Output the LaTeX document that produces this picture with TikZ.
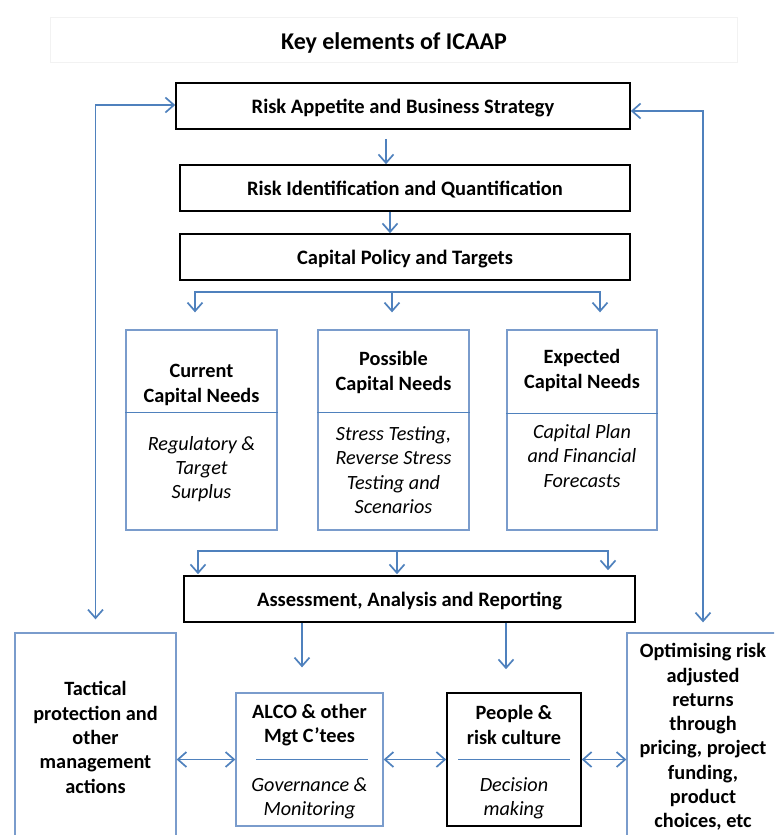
\documentclass[tikz,border=0pt]{standalone}
\usepackage{fontspec}
\setmainfont{Carlito}
\usepackage{xcolor}
\usetikzlibrary{arrows.meta}
\definecolor{linkblue}{RGB}{79,129,189}
\definecolor{edgeblue}{RGB}{122,156,204}

\begin{document}
\begin{tikzpicture}[x=1pt, y=-1pt,
  box/.style={draw, line width=1.6pt, minimum height=46pt, inner sep=0pt, text depth=0pt, font=\bfseries\fontsize{20.5}{24}\selectfont},
  bluebox/.style={draw=edgeblue, line width=1.3pt, inner sep=0pt},
  head/.style={font=\bfseries\fontsize{20.3}{24.3}\selectfont, align=center, inner sep=0pt, yshift=-2pt},
  sub/.style={font=\itshape\fontsize{20.2}{24.3}\selectfont, align=center, inner sep=0pt, yshift=-2pt},
  sepline/.style={draw=linkblue, line width=1.3pt},
  link/.style={draw=linkblue, line width=1.7pt, -{Straight Barb[length=8.5pt,width=15pt]}},
  dlink/.style={link, {Straight Barb[length=8.5pt,width=15pt]}-{Straight Barb[length=8.5pt,width=15pt]}}
]
\useasboundingbox (0,0) rectangle (774,835);

% title
\node[draw=black!5, line width=0.8pt, minimum width=687pt, minimum height=45pt] (titlebox) at (393.5,39.5) {};
\node[font=\bfseries\fontsize{24}{28}\selectfont] (title) at (394,43) {Key elements of ICAAP};

% main chain
\node[box, minimum width=454pt] (risk) at (403,106) {Risk Appetite and Business Strategy};
\node[box, minimum width=450pt] (ident) at (405,188) {Risk Identification and Quantification};
\node[box, minimum width=450pt] (policy) at (405,257) {Capital Policy and Targets};

\draw[link, shorten <=9pt] ([xshift=-17pt]risk.south) -- ([xshift=-17pt]risk.south |- ident.north);
\draw[link] ([xshift=-15pt]ident.south) -- ([xshift=-15pt]ident.south |- policy.north);

% capital needs
\foreach \n/\x/\w in {curr/201.5/151, poss/393.5/151, expc/582/150} {
  \node[bluebox, minimum width=\w pt, minimum height=200pt] (\n) at (\x,430) {};
}
\draw[sepline] ([yshift=-83pt]curr.north west) -- ([yshift=-83pt]curr.north east);
\draw[sepline] ([yshift=-83pt]poss.north west) -- ([yshift=-83pt]poss.north east);
\draw[sepline] ([yshift=-84pt]expc.north west) -- ([yshift=-84pt]expc.north east);

\node[head] (curr-h) at (201.5,383) {Current\\Capital Needs};
\node[sub] (curr-s) at (201.5,467) {Regulatory \&\\Target\\Surplus};
\node[head] (poss-h) at (393.5,370.5) {Possible\\Capital Needs};
\node[sub] (poss-s) at (393.5,468) {Stress Testing,\\Reverse Stress\\Testing and\\Scenarios};
\node[head] (expc-h) at (582,368.5) {Expected\\Capital Needs};
\node[sub] (expc-s) at (582,454) {Capital Plan\\and Financial\\Forecasts};

\coordinate (f1l) at (195,292);
\coordinate (f1m) at (392,292);
\coordinate (f1r) at (600,292);
\draw[link, shorten >=17pt] (f1m) -- (f1m |- poss.north);
\draw[link, shorten >=17pt] (f1m) -| (f1l |- curr.north);
\draw[link, shorten >=17pt] (f1m) -| (f1r |- expc.north);

% assessment
\node[box, minimum width=451pt] (assess) at (409.5,599) {Assessment, Analysis and Reporting};

\coordinate (f2l) at (198,551);
\coordinate (f2m) at (397,551);
\coordinate (f2r) at (608,551);
\draw[link, shorten >=1pt] (f2m) -- (f2m |- assess.north);
\draw[link, shorten >=1pt] (f2m) -| (f2l |- assess.north);
\draw[link, shorten >=5pt] (f2m) -| (f2r |- assess.north);

% bottom row
\begin{scope}
\clip (0,0) rectangle (774,835);
\node[bluebox, minimum width=161pt, minimum height=230pt] (tact) at (95.5,748) {};
\node[bluebox, minimum width=163pt, minimum height=230pt] (optim) at (708.5,748) {};
\end{scope}
\node[bluebox, minimum width=147pt, minimum height=133pt] (alco) at (309.5,759.5) {};
\node[draw, line width=1.6pt, minimum width=134pt, minimum height=133pt] (people) at (514,759.5) {};

\node[head] (tact-t) at (95.5,735.5) {Tactical\\protection and\\other\\management\\actions};
\node[head] (optim-t) at (703,735) {Optimising risk\\adjusted\\returns\\through\\pricing, project\\funding,\\product\\choices, etc};
\node[head] (alco-h) at (309.5,723) {ALCO \& other\\Mgt C’tees};
\node[sub] (alco-s) at (309.5,796) {Governance \&\\Monitoring};
\node[head] (people-h) at (514,723) {People \&\\risk culture};
\node[sub] (people-s) at (514,796) {Decision\\making};

\draw[sepline] ([xshift=21pt]alco.west) -- ([xshift=-16pt]alco.east);
\draw[sepline] ([xshift=12pt]people.west) -- ([xshift=-12pt]people.east);

\draw[link, shorten >=25pt] ([xshift=-7.5pt]alco.north |- assess.south) -- ([xshift=-7.5pt]alco.north);
\draw[link, shorten >=23pt] ([xshift=-8pt]people.north |- assess.south) -- ([xshift=-8pt]people.north);

\draw[dlink] (alco.west -| tact.east) -- (alco.west);
\draw[dlink] (alco.east) -- (people.west);
\draw[dlink] (people.east) -- (people.east -| optim.west);

% feedback loops
\draw[dlink, shorten <=13pt] (tact.north) |- ([yshift=1pt]risk.west);
\draw[dlink, shorten <=10pt] ([xshift=-5.5pt]optim.north) |- ([yshift=-5pt]risk.east);
\end{tikzpicture}
\end{document}
